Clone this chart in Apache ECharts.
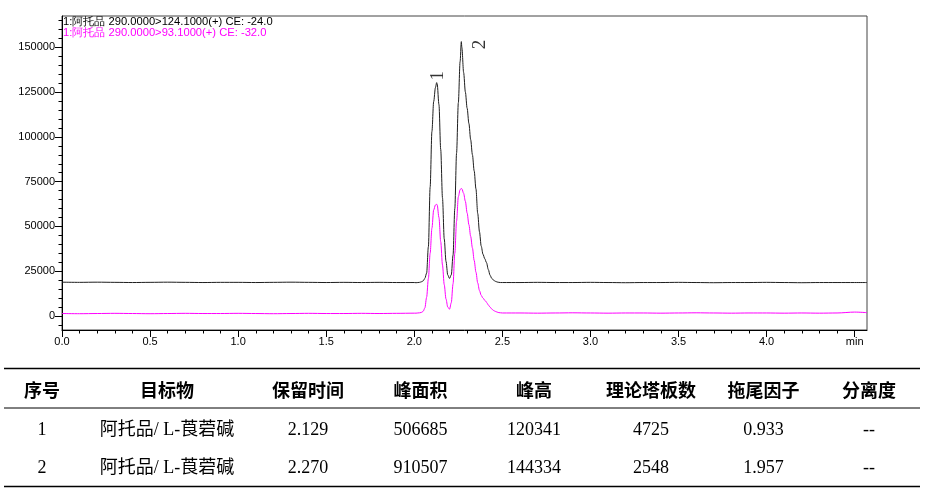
<!DOCTYPE html>
<html>
<head>
<meta charset="utf-8">
<script src="https://cdn.jsdelivr.net/npm/echarts@6/dist/echarts.min.js"></script>
<style>
html,body{margin:0;padding:0;background:#fff;}
#chart{width:928px;height:493px;}
</style>
</head>
<body>
<div id="chart"></div>
<script>
// ---------- data ----------
const traceNames = [
  '1:阿托品 290.0000>124.1000(+) CE: -24.0',
  '1:阿托品 290.0000>93.1000(+) CE: -32.0'
];
const times = [
  0.0,0.1,0.2,0.3,0.4,0.5,0.6,0.7,0.8,0.9,1.0,1.1,1.2,1.3,1.4,1.5,1.6,1.7,1.8,1.9,
  2.00,2.01,2.02,2.03,2.04,2.05,2.06,2.07,2.08,2.09,2.10,2.11,2.12,2.127,2.13,2.14,2.15,2.16,2.17,2.18,2.19,
  2.20,2.21,2.22,2.23,2.24,2.25,2.26,2.267,2.27,2.28,2.29,2.30,2.31,2.32,2.33,2.34,2.35,2.36,2.37,2.38,2.39,
  2.40,2.41,2.42,2.43,2.44,2.45,2.46,2.47,2.48,2.49,2.50,
  2.6,2.7,2.8,2.9,3.0,3.1,3.2,3.3,3.4,3.5,3.6,3.7,3.8,3.9,4.0,4.1,4.2,4.3,4.4,4.5,4.57
];
const blackValues = [
  18900,18800,18900,18800,18700,18800,18900,18800,18700,18800,18800,18700,18800,18900,18800,18700,18800,18700,18800,18700,
  18700,18600,18700,18800,19100,19600,21000,24000,38700,72000,103000,119700,127500,130300,129500,118000,93000,66000,43000,30500,22900,
  21000,23000,34000,60000,91000,119000,142000,153200,150000,136000,125000,116000,107500,98500,90000,81000,71000,57300,47000,39000,34500,
  32000,29800,26000,22800,21000,20000,19400,19000,18800,18700,18700,
  18700,18800,18700,18700,18800,18700,18600,18700,18700,18800,18700,18600,18700,18700,18800,18700,18600,18700,18700,18700,18700
];
const magentaValues = [
  1400,1300,1400,1500,1400,1300,1400,1500,1400,1400,1500,1400,1300,1400,1500,1400,1400,1500,1400,1500,
  1600,1600,1700,1800,2000,2600,4500,10500,21000,35000,49000,59200,62000,62400,62000,55000,41500,28500,17500,9500,5000,
  3800,7500,18000,35000,53000,66600,70500,71300,71000,68500,64000,57500,51000,44500,38000,31000,24500,18500,14200,11500,10000,
  8800,7700,6200,5000,3900,3100,2600,2200,1900,1800,1700,
  1700,1600,1700,1800,1700,1600,1700,1700,1600,1700,1800,1700,1600,1700,1700,1600,1700,1600,1700,2200,1900
];
const peakLabels = ['1', '2'];
const peakTimes = [2.129, 2.270];
const peakHeights = [130300, 153200];

const yMajorTicks = [0, 25000, 50000, 75000, 100000, 125000, 150000];
const yMinorTicks = [-5000,0,5000,10000,15000,20000,25000,30000,35000,40000,45000,50000,55000,60000,65000,70000,75000,80000,
  85000,90000,95000,100000,105000,110000,115000,120000,125000,130000,135000,140000,145000,150000,155000,160000,165000];
const xMajorTicks = [0, 0.5, 1.0, 1.5, 2.0, 2.5, 3.0, 3.5, 4.0, 4.5];
const xMinorTicks = [0,0.1,0.2,0.3,0.4,0.5,0.6,0.7,0.8,0.9,1.0,1.1,1.2,1.3,1.4,1.5,1.6,1.7,1.8,1.9,2.0,2.1,2.2,2.3,2.4,2.5,
  2.6,2.7,2.8,2.9,3.0,3.1,3.2,3.3,3.4,3.5,3.6,3.7,3.8,3.9,4.0,4.1,4.2,4.3,4.4,4.5];
const xUnitLabel = 'min';

const tableHeader = ['序号', '目标物', '保留时间', '峰面积', '峰高', '理论塔板数', '拖尾因子', '分离度'];
const tableRow1 = ['1', '阿托品/ L-莨菪碱', '2.129', '506685', '120341', '4725', '0.933', '--'];
const tableRow2 = ['2', '阿托品/ L-莨菪碱', '2.270', '910507', '144334', '2548', '1.957', '--'];

// ---------- layout / style ----------
const colCenters = [42, 167, 308, 420.5, 534, 651, 763.5, 869];
const rowCenters = [390, 430, 468.5];
const ruleYs = [368.5, 408, 486.5];
const ruleWidths = [1.3, 1, 1.3];
// label offsets are in the label's rotated frame (rotate 90 => screen dx = oy, screen dy = -ox)
const labelOffsets = [[7, 1], [-3, 18]];
const SANS = '"Liberation Sans", Arial, sans-serif';
const SERIF = '"Liberation Serif", "Times New Roman", "Noto Sans CJK SC", serif';
const CJK = '"Noto Sans CJK SC", sans-serif';

function pairs(vals) { return times.map((t, i) => [t, vals[i]]); }

const graphics = [];
ruleYs.forEach((y, i) => {
  graphics.push({type: 'line', shape: {x1: 4, y1: y, x2: 920, y2: y},
    style: {stroke: '#000', lineWidth: ruleWidths[i]}, silent: true});
});
[tableHeader, tableRow1, tableRow2].forEach((row, r) => {
  row.forEach((txt, c) => {
    graphics.push({type: 'text', x: colCenters[c], y: rowCenters[r],
      style: {text: txt, fill: '#000', align: 'center', verticalAlign: 'middle',
        font: (r === 0 ? 'bold 18px ' + CJK : '18px ' + SERIF)}, silent: true});
  });
});

const axisCommon = {fontFamily: SANS, fontSize: 11, color: '#000'};

const option = {
  animation: false,
  backgroundColor: '#fff',
  title: [
    {text: traceNames[0], left: 63, top: 16, padding: 0,
      textStyle: {fontFamily: SANS, fontSize: 11.2, fontWeight: 'normal', color: '#000'}},
    {text: traceNames[1], left: 63, top: 27, padding: 0,
      textStyle: {fontFamily: SANS, fontSize: 11.2, fontWeight: 'normal', color: '#ff00ff'}}
  ],
  grid: {left: 62, top: 16, width: 805, height: 314, show: true,
    borderColor: '#444', borderWidth: 1, backgroundColor: 'transparent'},
  xAxis: [
    {type: 'value', min: 0, max: 4.57, position: 'bottom',
      axisLine: {show: true, onZero: false, lineStyle: {color: '#000', width: 1}},
      axisTick: {show: true, customValues: xMajorTicks, length: 7, lineStyle: {color: '#000'}},
      axisLabel: {show: true, customValues: xMajorTicks, margin: 6, ...axisCommon,
        formatter: v => (Math.abs(v - 4.5) < 1e-6 ? xUnitLabel : v.toFixed(1))},
      splitLine: {show: false}},
    {type: 'value', min: 0, max: 4.57, position: 'bottom',
      axisLine: {show: false, onZero: false},
      axisTick: {show: true, customValues: xMinorTicks, length: 3.5, lineStyle: {color: '#000'}},
      axisLabel: {show: false}, splitLine: {show: false}}
  ],
  yAxis: [
    {type: 'value', min: -7800, max: 167500, position: 'left',
      axisLine: {show: true, onZero: false, lineStyle: {color: '#000', width: 1}},
      axisTick: {show: true, customValues: yMajorTicks, length: 7, lineStyle: {color: '#000'}},
      axisLabel: {show: true, customValues: yMajorTicks, margin: 7, ...axisCommon,
        formatter: v => String(Math.round(v))},
      splitLine: {show: false}},
    {type: 'value', min: -7800, max: 167500, position: 'left',
      axisLine: {show: false, onZero: false},
      axisTick: {show: true, customValues: yMinorTicks, length: 3.5, lineStyle: {color: '#000'}},
      axisLabel: {show: false}, splitLine: {show: false}}
  ],
  series: [
    {type: 'line', name: traceNames[0], data: pairs(blackValues), showSymbol: false, symbol: 'none',
      smooth: 0.3, smoothMonotone: 'x',
      lineStyle: {color: '#1e1e1e', width: 1}, z: 3},
    {type: 'line', name: traceNames[1], data: pairs(magentaValues), showSymbol: false, symbol: 'none',
      smooth: 0.3, smoothMonotone: 'x',
      lineStyle: {color: '#ff00ff', width: 1}, z: 2},
    {type: 'scatter', symbolSize: 0, silent: true, z: 5,
      data: peakTimes.map((t, i) => ({value: [t, peakHeights[i]],
        label: {show: true, formatter: peakLabels[i], position: 'inside', rotate: 90,
          offset: labelOffsets[i], fontFamily: SERIF, fontSize: 19, color: '#000'}}))}
  ],
  graphic: graphics
};

const chart = echarts.init(document.getElementById('chart'), null, {renderer: 'canvas'});
chart.setOption(option);
</script>
</body>
</html>
